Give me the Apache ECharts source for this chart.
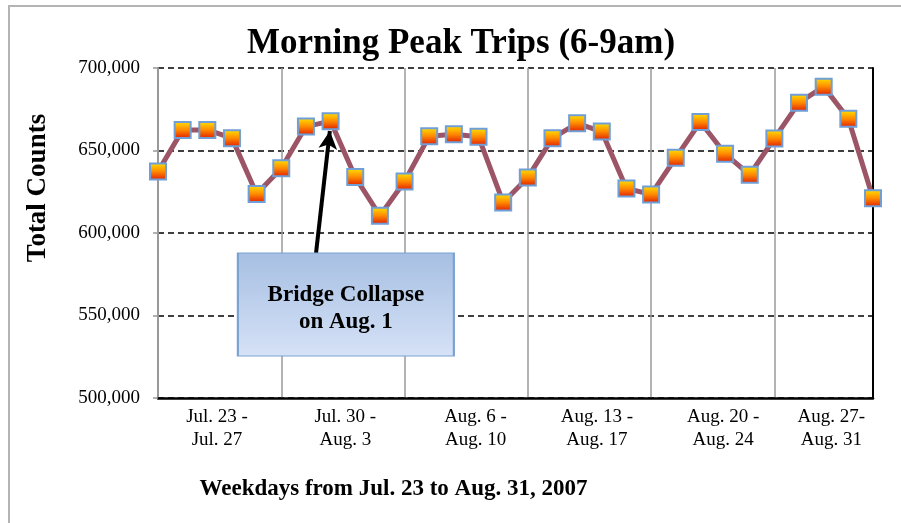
<!DOCTYPE html>
<html>
<head>
<meta charset="utf-8">
<title>Morning Peak Trips</title>
<script src="https://cdn.jsdelivr.net/npm/echarts@6/dist/echarts.min.js"></script>
<style>
  html, body { margin: 0; padding: 0; background: #fff; }
  #chart { width: 901px; height: 523px; }
</style>
</head>
<body>
<div id="chart"></div>
<script>
// weekday morning peak counts, Jul. 23 - Aug. 31, 2007
const weekLabels = ['Jul. 23 -\nJul. 27', 'Jul. 30 -\nAug. 3', 'Aug. 6 -\nAug. 10',
  'Aug. 13 -\nAug. 17', 'Aug. 20 -\nAug. 24', 'Aug. 27-\nAug. 31']
const tripCounts = [
  637300, 662500, 662500, 657500, 623600,
  639300, 664500, 667800, 633900, 610500,
  631200, 658700, 659900, 658300, 618500,
  633700, 657500, 666500, 661500, 627000,
  623400, 645600, 667300, 648000, 635300,
  657300, 679000, 688700, 669200, 621000
]
const yTicks = [500000, 550000, 600000, 650000, 700000]

const serif = 'Liberation Serif'
const chart = echarts.init(document.getElementById('chart'))

// per-week label nudges (px), to sit like the original
const labelShift = [59, 64, 71, 69, 72, 57]
const rich = {}
labelShift.forEach((s, i) => {
  rich['w' + i] = {
    fontFamily: serif,
    fontSize: 19,
    lineHeight: 23,
    color: '#000',
    width: 80,
    align: 'center',
    padding: [0, 0, 0, s - 40]
  }
})

chart.setOption({
  animation: false,
  title: {
    text: 'Morning Peak Trips (6-9am)',
    left: 247,
    top: 26,
    padding: 0,
    textStyle: { fontFamily: serif, fontWeight: 'bold', fontSize: 35, color: '#000' }
  },
  graphic: [{
    type: 'rect',
    shape: { x: 9, y: 6, width: 900, height: 525 },
    style: { fill: 'none', stroke: '#b4b4b4', lineWidth: 2 },
    silent: true
  }],
  grid: { left: 158, right: 28, top: 68, bottom: 125 },
  xAxis: {
    type: 'value',
    min: 0,
    max: tripCounts.length - 1,
    interval: 5,
    name: 'Weekdays from Jul. 23 to Aug. 31, 2007',
    nameLocation: 'middle',
    nameGap: 80,
    nameTextStyle: {
      fontFamily: serif, fontWeight: 'bold', fontSize: 23, color: '#000',
      padding: [0, 244, 0, 0]
    },
    axisLine: { show: true, lineStyle: { color: '#000', width: 2.5 } },
    axisTick: { show: false },
    axisLabel: {
      margin: 8,
      align: 'left',
      showMinLabel: true,
      showMaxLabel: false,
      hideOverlap: false,
      formatter: v => {
        if (v % 5 !== 0) return ''
        const k = v / 5
        return weekLabels[k].split('\n').map(t => '{w' + k + '|' + t + '}').join('\n')
      },
      rich: rich
    },
    splitLine: { show: true, lineStyle: { color: '#9a9a9a', width: 1.5, type: 'solid' } }
  },
  yAxis: [{
    type: 'value',
    min: yTicks[0],
    max: yTicks[yTicks.length - 1],
    interval: 50000,
    name: 'Total Counts',
    nameLocation: 'middle',
    nameGap: 106,
    nameRotate: 90,
    nameTextStyle: {
      fontFamily: serif, fontWeight: 'bold', fontSize: 27, color: '#000',
      padding: [0, 0, 0, 90]
    },
    axisLine: { show: true, lineStyle: { color: '#999', width: 2 } },
    axisTick: { show: true, length: 5, lineStyle: { color: '#999', width: 1.5 } },
    axisLabel: {
      margin: 18,
      fontFamily: serif,
      fontSize: 19,
      color: '#000',
      formatter: v => v.toLocaleString('en-US')
    },
    splitLine: { show: true, lineStyle: { color: '#000', width: 1.5, type: [6, 4] } }
  }, {
    type: 'value',
    position: 'right',
    min: yTicks[0],
    max: yTicks[yTicks.length - 1],
    interval: 50000,
    axisLine: { show: true, lineStyle: { color: '#000', width: 2 } },
    axisTick: { show: false },
    axisLabel: { show: false },
    splitLine: { show: false }
  }],
  series: [{
    type: 'line',
    data: tripCounts.map((v, i) => [i, v]),
    lineStyle: { color: '#9b5567', width: 5 },
    symbol: 'rect',
    symbolSize: 16,
    itemStyle: {
      color: new echarts.graphic.LinearGradient(0, 0, 0, 1, [
        { offset: 0, color: '#ffe600' },
        { offset: 0.5, color: '#ff8a00' },
        { offset: 1, color: '#e01a00' }
      ]),
      borderColor: '#6f9fd6',
      borderWidth: 2
    },
    z: 3,
    markLine: {
      silent: true,
      symbol: ['none', 'arrow'],
      symbolSize: [14, 18],
      label: { show: false },
      lineStyle: { color: '#000', width: 4, type: 'solid' },
      data: [[
        { coord: [6.41, 587900] },
        { coord: [6.97, 661800] }
      ]]
    },
    markPoint: {
      silent: true,
      symbol: 'rect',
      symbolSize: [216, 103],
      itemStyle: {
        color: new echarts.graphic.LinearGradient(0, 0, 0, 1, [
          { offset: 0, color: '#a6bfe2' },
          { offset: 1, color: '#d6e2f7' }
        ]),
        borderColor: '#7ba2d2',
        borderWidth: 1.5
      },
      label: {
        show: true,
        position: 'inside',
        offset: [0, 4],
        formatter: 'Bridge Collapse\non Aug. 1',
        fontFamily: serif,
        fontWeight: 'bold',
        fontSize: 23,
        lineHeight: 27,
        color: '#000'
      },
      data: [{ coord: [7.62, 556700] }]
    }
  }]
})
</script>
</body>
</html>
